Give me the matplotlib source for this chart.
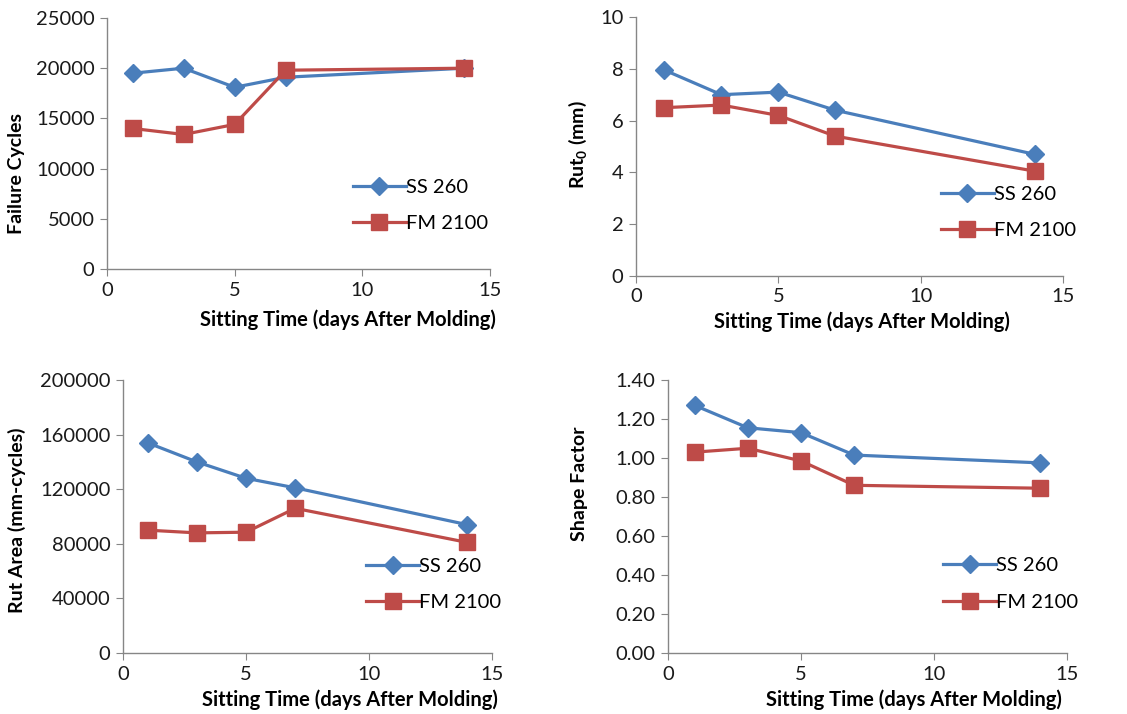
#! -*- coding: utf-8 -*-

#---------------------------------
# モジュールのインポート
#---------------------------------
import matplotlib
matplotlib.use('Agg')
import matplotlib.pyplot as plt

#---------------------------------
# データ定義
#---------------------------------
days = [1, 3, 5, 7, 14]

failure_ss260 = [19500, 20000, 18100, 19100, 20000]
failure_fm2100 = [14000, 13400, 14400, 19800, 20000]

rut0_ss260 = [7.95, 7.0, 7.1, 6.4, 4.7]
rut0_fm2100 = [6.5, 6.6, 6.2, 5.4, 4.05]

rutarea_ss260 = [154000, 140000, 128000, 121000, 94000]
rutarea_fm2100 = [90000, 88000, 88500, 106000, 81000]

shape_ss260 = [1.27, 1.155, 1.13, 1.015, 0.975]
shape_fm2100 = [1.03, 1.05, 0.985, 0.86, 0.845]

#---------------------------------
# 定数定義
#---------------------------------
BLUE = '#4A7EBB'
RED = '#BE4B48'
AXIS_GRAY = '#868686'
W, H = 1127.0, 714.0

plt.rcParams['font.family'] = ['Lato', 'DejaVu Sans']
plt.rcParams['mathtext.default'] = 'regular'


def px_rect(x0, x1, ytop, ybot):
    # ピクセル座標 -> figure座標
    return [x0 / W, 1 - ybot / H, (x1 - x0) / W, (ybot - ytop) / H]


def draw_panel(fig, rect, ss, fm, ymax, ystep, ylabel, yfmt, leg_anchor, xlab_px, ylab_px):
    ax = fig.add_axes(rect)
    ax.plot(days, ss, color=BLUE, lw=2.3, marker='D', ms=9.5, label='SS 260')
    ax.plot(days, fm, color=RED, lw=2.3, marker='s', ms=11, label='FM 2100')
    ax.set_xlim(0, 15)
    ax.set_ylim(0, ymax)
    ax.set_xticks([0, 5, 10, 15])
    yt = [i * ystep for i in range(int(round(ymax / ystep)) + 1)]
    ax.set_yticks(yt)
    ax.set_yticklabels([yfmt.format(v) for v in yt])
    for s in ['top', 'right']:
        ax.spines[s].set_visible(False)
    for s in ['left', 'bottom']:
        ax.spines[s].set_color(AXIS_GRAY)
        ax.spines[s].set_linewidth(1.0)
    ax.tick_params(direction='out', length=5, color=AXIS_GRAY, labelsize=14.5, labelcolor='#1a1a1a', pad=4)

    # --- 軸ラベル ---
    ax.set_xlabel('Sitting Time (days After Molding)', fontsize=14.5, fontweight='bold')
    ax.xaxis.set_label_coords(xlab_px[0] / W, 1 - xlab_px[1] / H, transform=fig.transFigure)
    ax.xaxis.label.set_verticalalignment('center')
    ax.set_ylabel(ylabel, fontsize=14, fontweight='bold')
    ax.yaxis.set_label_coords(ylab_px[0] / W, 1 - ylab_px[1] / H, transform=fig.transFigure)
    ax.yaxis.label.set_verticalalignment('center')

    # --- 凡例 ---
    ax.legend(loc='upper left', bbox_to_anchor=leg_anchor, frameon=False, fontsize=14.5,
              handlelength=2.6, handletextpad=0.0, labelspacing=0.95, borderaxespad=0)
    for line in ax.lines:
        line.set_clip_on(False)
    return ax


def main():
    fig = plt.figure(figsize=(11.27, 7.14), dpi=100)

    draw_panel(fig, px_rect(107, 490, 18, 269), failure_ss260, failure_fm2100,
               25000, 5000, 'Failure Cycles', '{:.0f}', (0.622, 0.392), (348, 320), (17, 174))
    draw_panel(fig, px_rect(636, 1063, 17, 276), rut0_ss260, rut0_fm2100,
               10, 2, r'Rut$_0$ (mm)', '{:.0f}', (0.696, 0.38), (862, 322), (578, 145))
    draw_panel(fig, px_rect(123, 492, 380, 653), rutarea_ss260, rutarea_fm2100,
               200000, 40000, 'Rut Area (mm-cycles)', '{:.0f}', (0.638, 0.379), (350, 700), (17, 520))
    draw_panel(fig, px_rect(668, 1067, 380, 653), shape_ss260, shape_fm2100,
               1.4, 0.2, 'Shape Factor', '{:.2f}', (0.67, 0.38), (914, 700), (580, 484))

    fig.savefig('out.png', dpi=100)
    plt.close(fig)


if __name__ == '__main__':
    main()
